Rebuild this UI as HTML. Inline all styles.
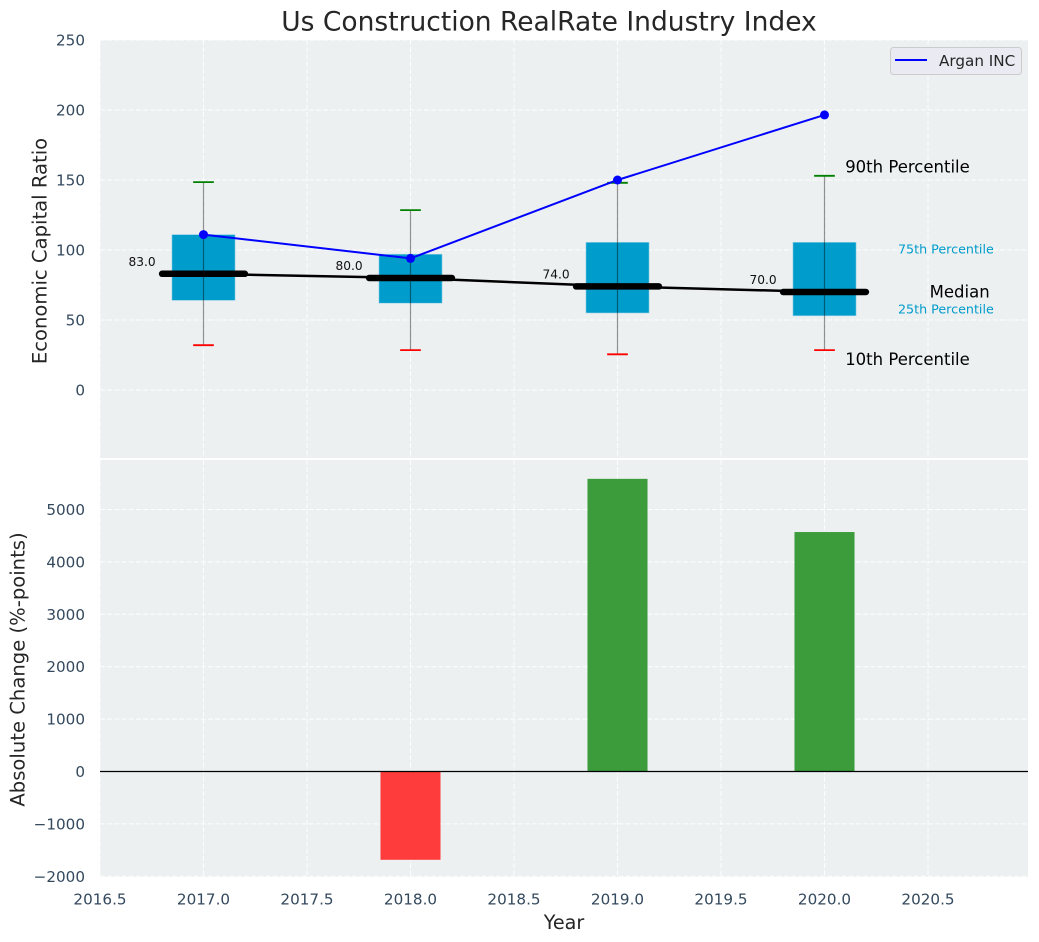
<!DOCTYPE html>
<html>
<head>
<meta charset="utf-8">
<title>Us Construction RealRate Industry Index</title>
<style>
html,body{margin:0;padding:0;background:#fff;}
svg{display:block;font-family:"DejaVu Sans","Liberation Sans",sans-serif;}
</style>
</head>
<body>
<svg id="chart" xmlns="http://www.w3.org/2000/svg" width="1039" height="942" viewBox="0 0 1039 942">
<text x="549" y="30.5" text-anchor="middle" font-size="26.5" fill="#262626">Us Construction RealRate Industry Index</text>
<text transform="translate(46.5,251) rotate(-90)" text-anchor="middle" font-size="19.6" fill="#262626">Economic Capital Ratio</text>
<text transform="translate(24.5,669.5) rotate(-90)" text-anchor="middle" font-size="19.6" fill="#262626">Absolute Change (%-points)</text>
<text x="564" y="929" text-anchor="middle" font-size="19.2" fill="#262626">Year</text>
</svg>
<script>
const years = [2017, 2018, 2019, 2020];
const p90 = [148.5, 128.5, 148, 153];
const p75 = [111, 97, 105.5, 105.5];
const medians = [83, 80, 74, 70];
const p25 = [64, 62, 55, 53];
const p10 = [32, 28.5, 25.5, 28.5];
const arganValues = [111, 94, 150, 196.5];
const absoluteChange = [0, -1685, 5585, 4570];
const xTicks = [2016.5, 2017, 2017.5, 2018, 2018.5, 2019, 2019.5, 2020, 2020.5];
const xTickLabels = ['2016.5', '2017.0', '2017.5', '2018.0', '2018.5', '2019.0', '2019.5', '2020.0', '2020.5'];
const topYTicks = [0, 50, 100, 150, 200, 250];
const bottomYTicks = [-2000, -1000, 0, 1000, 2000, 3000, 4000, 5000];

const svg = document.getElementById('chart');
const NS = 'http://www.w3.org/2000/svg';
const plotLeft = 100, plotRight = 1028;
const topPanelTop = 40, topPanelBottom = 458;
const bottomPanelTop = 460, bottomPanelBottom = 877;

function xScale(v) { return 100 + (v - 2016.5) * 207; }
function yTop(v) { return 390 - v * 1.4; }
function yBottom(v) { return 771.5 - v * 0.0524; }

function make(tag, attrs, parent) {
  const el = document.createElementNS(NS, tag);
  for (const k in attrs) el.setAttribute(k, attrs[k]);
  (parent || svg).appendChild(el);
  return el;
}
function fmt(v) { return String(v).replace('-', '\u2212'); }

let el;

el = make('rect', {x: plotLeft, y: topPanelTop, width: plotRight - plotLeft, height: topPanelBottom - topPanelTop, fill: '#ecf0f1'});


el = make('rect', {x: plotLeft, y: bottomPanelTop, width: plotRight - plotLeft, height: bottomPanelBottom - bottomPanelTop, fill: '#ecf0f1'});



const gridAttrs = {stroke: '#ffffff', 'stroke-width': 1, 'stroke-dasharray': '5 2.2', opacity: 0.9};

xTicks.forEach((t, i) => {
  const x = xScale(t);
  let g = make('line', Object.assign({x1: x, x2: x, y1: topPanelTop, y2: topPanelBottom}, gridAttrs));
  
  
  g = make('line', Object.assign({x1: x, x2: x, y1: bottomPanelTop, y2: bottomPanelBottom}, gridAttrs));
  
  
  const lab = make('text', {x: x, y: 904.5, 'text-anchor': 'middle', 'font-size': 15.2, fill: '#34495e'});
  lab.textContent = xTickLabels[i];
  
  
});

topYTicks.forEach(t => {
  const y = yTop(t);
  const g = make('line', Object.assign({x1: plotLeft, x2: plotRight, y1: y, y2: y}, gridAttrs));
  
  
  const lab = make('text', {x: 85, y: y + 5.5, 'text-anchor': 'end', 'font-size': 15.2, fill: '#34495e'});
  lab.textContent = fmt(t);
  
  
});

bottomYTicks.forEach(t => {
  const y = yBottom(t);
  const g = make('line', Object.assign({x1: plotLeft, x2: plotRight, y1: y, y2: y}, gridAttrs));
  
  
  const lab = make('text', {x: 85, y: y + 5.5, 'text-anchor': 'end', 'font-size': 15.2, fill: '#34495e'});
  lab.textContent = fmt(t);
  
  
});

/* boxes */
const boxWidth = 0.305;
years.forEach((yr, i) => {
  const b = make('rect', {
    x: xScale(yr - boxWidth / 2), y: yTop(p75[i]),
    width: xScale(yr + boxWidth / 2) - xScale(yr - boxWidth / 2),
    height: yTop(p25[i]) - yTop(p75[i]),
    fill: '#009ccc', stroke: '#9fd4e6', 'stroke-width': 0.6
  });
  
  
});

/* median connector */
const medianLine = make('polyline', {
  points: years.map((yr, i) => xScale(yr) + ',' + yTop(medians[i])).join(' '),
  fill: 'none', stroke: '#000', 'stroke-width': 2.5
});



/* medians, whiskers, caps, labels */
years.forEach((yr, i) => {
  const x = xScale(yr);
  const m = make('line', {x1: xScale(yr - 0.2), x2: xScale(yr + 0.2), y1: yTop(medians[i]), y2: yTop(medians[i]), stroke: '#000', 'stroke-width': 6.5, 'stroke-linecap': 'round'});
  
  

  const w = make('line', {x1: x, x2: x, y1: yTop(p90[i]), y2: yTop(p10[i]), stroke: '#000', 'stroke-opacity': 0.42, 'stroke-width': 1.2});
  
  

  const hi = make('line', {x1: xScale(yr - 0.05), x2: xScale(yr + 0.05), y1: yTop(p90[i]), y2: yTop(p90[i]), stroke: '#008000', 'stroke-width': 1.8});
  
  

  const lo = make('line', {x1: xScale(yr - 0.05), x2: xScale(yr + 0.05), y1: yTop(p10[i]), y2: yTop(p10[i]), stroke: '#ff0000', 'stroke-width': 1.8});
  
  

  const t = make('text', {x: xScale(yr - 0.297), y: yTop(medians[i]) - 8, 'text-anchor': 'middle', 'font-size': 12.2, fill: '#111'});
  t.textContent = medians[i].toFixed(1);
  
  
});

/* Argan line */
const arganLine = make('polyline', {
  points: years.map((yr, i) => xScale(yr) + ',' + yTop(arganValues[i])).join(' '),
  fill: 'none', stroke: '#0000ff', 'stroke-width': 2
});


years.forEach((yr, i) => {
  const p = make('circle', {cx: xScale(yr), cy: yTop(arganValues[i]), r: 4.5, fill: '#0000ff'});
  
  
});

/* percentile annotations, anchored to the last box */
const lastIdx = years.length - 1;
const lastYear = years[lastIdx];
let ann;
ann = make('text', {x: xScale(lastYear + 0.1), y: yTop(p90[lastIdx]) - 3.5, 'font-size': 16.5, fill: '#000'});
ann.textContent = '90th Percentile';


ann = make('text', {x: xScale(lastYear + 0.1), y: yTop(p10[lastIdx]) + 15, 'font-size': 16.5, fill: '#000'});
ann.textContent = '10th Percentile';


ann = make('text', {x: xScale(lastYear + 0.355), y: yTop(p75[lastIdx]) + 11, 'font-size': 12.7, fill: '#009ccc'});
ann.textContent = '75th Percentile';


ann = make('text', {x: xScale(lastYear + 0.355), y: yTop(p25[lastIdx]) - 2.5, 'font-size': 12.7, fill: '#009ccc'});
ann.textContent = '25th Percentile';


ann = make('text', {x: xScale(lastYear + 0.508), y: yTop(medians[lastIdx]) + 5.5, 'font-size': 16.5, fill: '#000'});
ann.textContent = 'Median';



/* bars */
const barWidth = 0.29;
years.forEach((yr, i) => {
  const v = absoluteChange[i];
  if (v === 0) return;
  const y0 = yBottom(Math.max(v, 0));
  const y1 = yBottom(Math.min(v, 0));
  const b = make('rect', {
    x: xScale(yr - barWidth / 2), y: y0,
    width: xScale(yr + barWidth / 2) - xScale(yr - barWidth / 2),
    height: y1 - y0,
    fill: v >= 0 ? '#3c9c3c' : '#ff3c3c'
  });
  
  
});

const zero = make('line', {x1: plotLeft, x2: plotRight, y1: yBottom(0), y2: yBottom(0), stroke: '#000', 'stroke-width': 1.2});



/* legend */
const legendBox = make('rect', {x: 890.5, y: 47.5, width: 131, height: 27, rx: 3, fill: '#eaeaf2', stroke: '#cccccc', 'stroke-width': 1});


const legendLine = make('line', {x1: 895, x2: 927, y1: 60, y2: 60, stroke: '#0000ff', 'stroke-width': 2});


const legendText = make('text', {x: 939, y: 66, 'font-size': 15.2, fill: '#262626'});
legendText.textContent = 'Argan INC';


</script>
</body>
</html>
